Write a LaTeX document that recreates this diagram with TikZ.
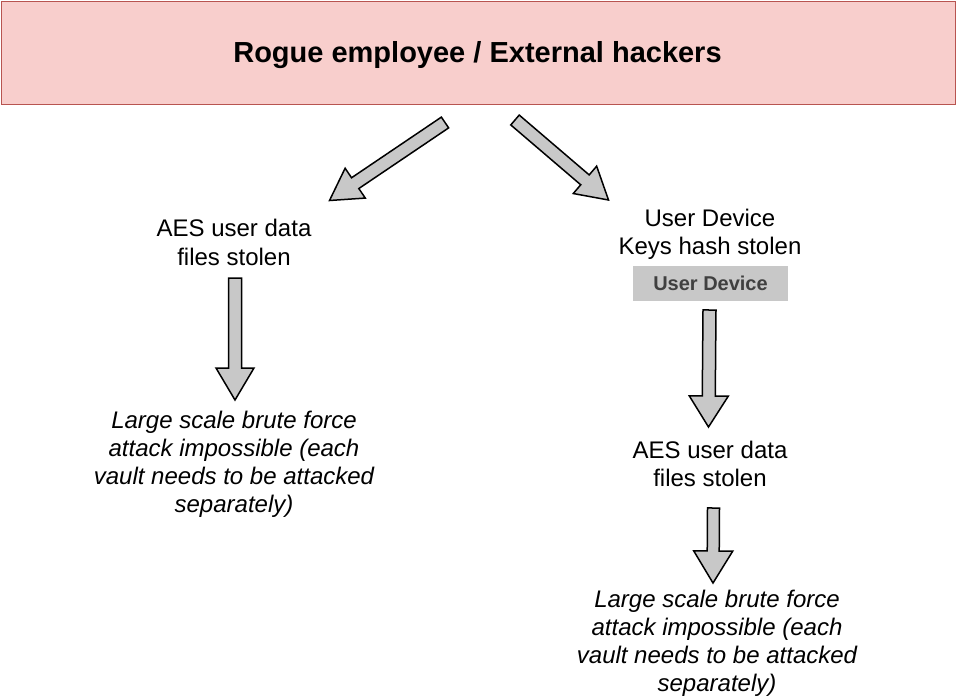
\documentclass[tikz,border=0pt]{standalone}
\usepackage{fontspec}
\setmainfont{Liberation Sans}
\usetikzlibrary{calc}
\definecolor{boxfill}{HTML}{F8CECC}
\definecolor{boxline}{HTML}{B85450}
\definecolor{arrowfill}{HTML}{C8C8C8}
\definecolor{labelfill}{HTML}{C8C8C8}
\definecolor{labeltext}{HTML}{404040}
\tikzset{
  txt/.style={align=center, inner sep=0pt, font=\fontsize{24}{28.3}\selectfont},
  itxt/.style={align=center, inner sep=0pt, font=\fontsize{24}{28}\selectfont\itshape},
  fatarrow/.style={draw=black, fill=arrowfill, line width=1.5pt, line join=miter},
}
% \fatarr{tail}{tip}{shaft half}{head half}{head length}
\newcommand{\fatarr}[5]{%
  \coordinate (hb) at ($(#2)!#5!(#1)$);
  \draw[fatarrow]
    ($(#1)!#3!90:(#2)$) -- ($(hb)!#3!-90:(#1)$) -- ($(hb)!#4!-90:(#1)$) -- (#2)
    -- ($(hb)!#4!90:(#1)$) -- ($(hb)!#3!90:(#1)$) -- ($(#1)!#3!-90:(#2)$) -- cycle;
}
\begin{document}
\begin{tikzpicture}[x=1pt, y=-1pt]
\useasboundingbox (0,0) rectangle (957,699);
\node[draw=boxline, fill=boxfill, line width=1.4pt, minimum width=954pt, minimum height=103pt, inner sep=0pt,
      font=\fontsize{29}{34}\selectfont\bfseries] (top) at (478.5,53) {};
\node[inner sep=0pt, font=\fontsize{29}{34}\selectfont\bfseries] (title) at (477.5,55) {Rogue employee / External hackers};

\node[txt] (laes) at (234,242.5) {AES user data\\files stolen};
\node[itxt] (lbrute) at (234,464) {Large scale brute force\\attack impossible (each\\vault needs to be attacked\\separately)};

\node[txt] (rdev) at (710,234) {User Device\\Keys hash stolen};
\node[fill=labelfill, minimum width=155pt, minimum height=35pt, inner sep=0pt, text=labeltext,
      font=\fontsize{20}{24}\selectfont\bfseries] (rlabel) at (710.5,283.5) {User Device};
\node[txt] (raes) at (710,464) {AES user data\\files stolen};
\node[itxt] (rbrute) at (717,643) {Large scale brute force\\attack impossible (each\\vault needs to be attacked\\separately)};

\coordinate (a1s) at (445,122.5);  \coordinate (a1e) at (329.5,200.5);
\coordinate (a2s) at (515,120);    \coordinate (a2e) at (608.5,200);
\coordinate (a3s) at (235,278);    \coordinate (a3e) at (235,400);
\coordinate (a4s) at (709.5,310);  \coordinate (a4e) at (708.5,427);
\coordinate (a5s) at (713.5,508);  \coordinate (a5e) at (713,583);

\fatarr{a1s}{a1e}{6.5pt}{18pt}{31pt}
\fatarr{a2s}{a2e}{6.5pt}{18pt}{31pt}
\fatarr{a3s}{a3e}{6.5pt}{19pt}{32pt}
\fatarr{a4s}{a4e}{6.5pt}{19.5pt}{31pt}
\fatarr{a5s}{a5e}{6pt}{19.5pt}{32pt}
\end{tikzpicture}
\end{document}
